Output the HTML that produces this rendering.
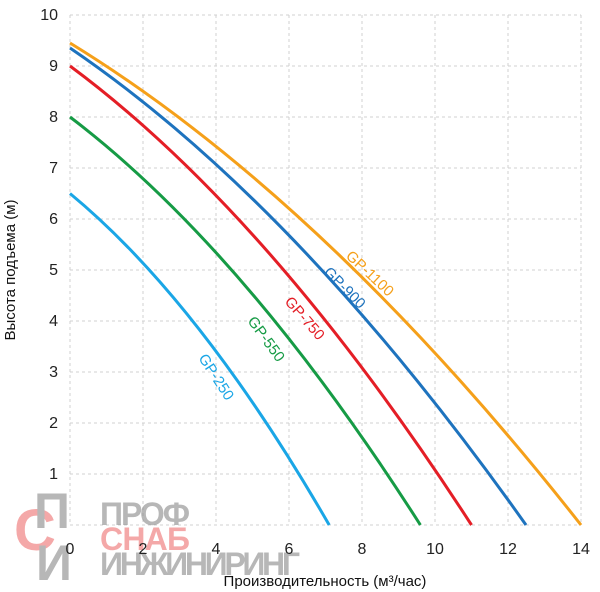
<!DOCTYPE html><html><head><style>body{margin:0;background:#fff}svg{display:block}</style></head><body>
<svg width="600" height="592" viewBox="0 0 600 592" xmlns="http://www.w3.org/2000/svg" font-family="Liberation Sans, DejaVu Sans, sans-serif">
<g stroke="#d0d0d0" stroke-dasharray="3,3" stroke-width="1">
<line x1="70" y1="15" x2="70" y2="525"/><line x1="143" y1="15" x2="143" y2="525"/><line x1="216" y1="15" x2="216" y2="525"/><line x1="289" y1="15" x2="289" y2="525"/><line x1="362" y1="15" x2="362" y2="525"/><line x1="435" y1="15" x2="435" y2="525"/><line x1="508" y1="15" x2="508" y2="525"/><line x1="581" y1="15" x2="581" y2="525"/>
<line x1="70" y1="15" x2="581" y2="15"/><line x1="70" y1="66" x2="581" y2="66"/><line x1="70" y1="117" x2="581" y2="117"/><line x1="70" y1="168" x2="581" y2="168"/><line x1="70" y1="219" x2="581" y2="219"/><line x1="70" y1="270" x2="581" y2="270"/><line x1="70" y1="321" x2="581" y2="321"/><line x1="70" y1="372" x2="581" y2="372"/><line x1="70" y1="423" x2="581" y2="423"/><line x1="70" y1="474" x2="581" y2="474"/><line x1="70" y1="525" x2="581" y2="525"/>
</g>
<g font-size="16" fill="#222" text-anchor="end">
<text x="58" y="20">10</text><text x="58" y="71">9</text><text x="58" y="122">8</text><text x="58" y="173">7</text><text x="58" y="224">6</text><text x="58" y="275">5</text><text x="58" y="326">4</text><text x="58" y="377">3</text><text x="58" y="428">2</text><text x="58" y="479">1</text>
</g>
<g opacity="0.6">
<text x="14" y="550" font-size="58" font-weight="bold" fill="#ee7070">С</text>
<text x="34" y="528" font-size="50" font-weight="bold" fill="#888">П</text>
<text x="36" y="580" font-size="50" font-weight="bold" fill="#888">И</text>
<text x="100" y="525" font-size="32" font-weight="bold" fill="#888" textLength="90">ПРОФ</text>
<text x="100" y="550" font-size="32" font-weight="bold" fill="#ee7070" textLength="90">СНАБ</text>
<text x="100" y="575" font-size="32" font-weight="bold" fill="#888" textLength="200">ИНЖИНИРИНГ</text>
</g>
<g font-size="16" fill="#222" text-anchor="middle">
<text x="70" y="554">0</text><text x="143" y="554">2</text><text x="216" y="554">4</text><text x="289" y="554">6</text><text x="362" y="554">8</text><text x="435" y="554">10</text><text x="508" y="554">12</text><text x="581" y="554">14</text>
</g>
<text x="325" y="586" font-size="15" fill="#111" text-anchor="middle">Производительность (м³/час)</text>
<text transform="translate(15,270) rotate(-90)" font-size="15" fill="#111" text-anchor="middle">Высота подъема (м)</text>
<g fill="none" stroke-width="3">
<path d="M70,43 Q325.5,200 581,525" stroke="#f5a01a"/>
<path d="M70,48 Q298,203 526,525" stroke="#1e73be"/>
<path d="M70,66 Q271,215 471.5,525" stroke="#e41e26"/>
<path d="M70,117 Q245,250 420.4,525" stroke="#169b45"/>
<path d="M70,193.5 Q200,301 329.2,525" stroke="#1aa6e6"/>
</g>
<g font-size="15">
<text transform="translate(345,257) rotate(43)" fill="#f5a01a">GP-1100</text>
<text transform="translate(323,273) rotate(45)" fill="#1e73be">GP-900</text>
<text transform="translate(284,302) rotate(49)" fill="#e41e26">GP-750</text>
<text transform="translate(247,321) rotate(54)" fill="#169b45">GP-550</text>
<text transform="translate(198,358) rotate(57)" fill="#1aa6e6">GP-250</text>
</g>
</svg>
</body></html>
